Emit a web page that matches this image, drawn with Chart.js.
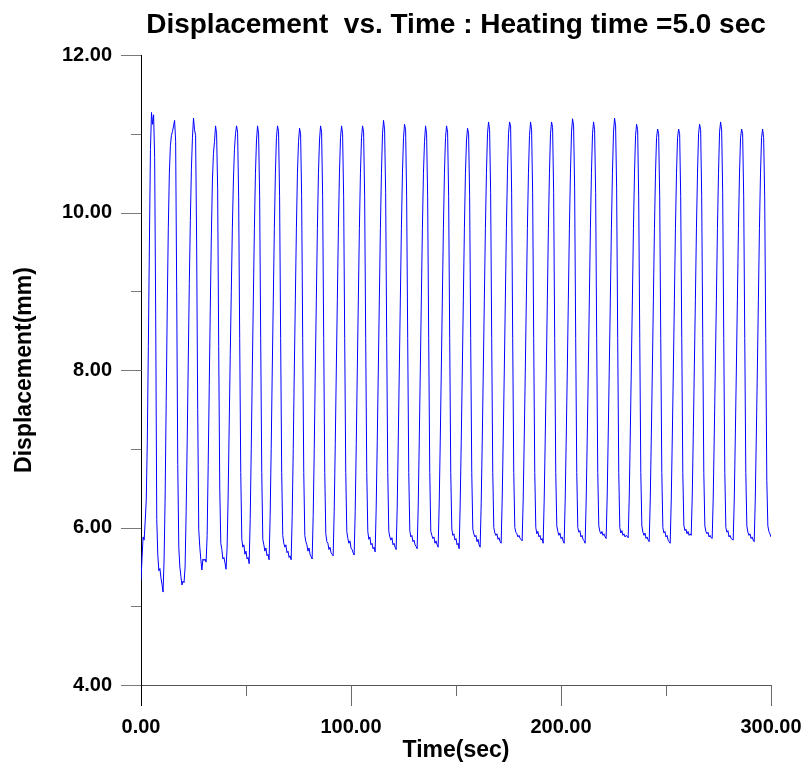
<!DOCTYPE html>
<html>
<head>
<meta charset="utf-8">
<title>Displacement vs. Time</title>
<script src="https://cdn.jsdelivr.net/npm/chart.js@4/dist/chart.umd.min.js"></script>
<style>
  html, body { margin: 0; padding: 0; background: #ffffff; }
  #wrap { width: 804px; height: 767px; }
</style>
</head>
<body>
<div id="wrap"><canvas id="chart" width="804" height="767"></canvas></div>
<script>
// ---- data ----
const chartTitle = 'Displacement  vs. Time : Heating time =5.0 sec';
const xAxisTitle = 'Time(sec)';
const yAxisTitle = 'Displacement(mm)';
const timeTickLabels = [0, 100, 200, 300];      // labelled x ticks
const dispTickLabels = [4, 6, 8, 10, 12];       // labelled y ticks
const sampleIntervalSec = 0.5;                  // one displacement sample every 0.5 s, starting at t = 0

const displacement = [
  // t = 0 .. 4.5
  5.33, 5.62, 5.88, 5.84, 6.08, 6.35, 7.1, 8.3, 9.6, 10.8,
  // cycle 0 (peak ~5 s)
  11.27, 11.12, 11.24, 10.7, 8.7, 6.1, 5.65, 5.45, 5.48, 5.36, 5.28, 5.18, 5.6, 6.4, 7.6, 8.8, 9.8, 10.5, 10.85, 10.98, 11.03,
  // cycle 1
  11.1, 11.17, 10.9, 9.0, 6.8, 5.75, 5.5, 5.38, 5.27, 5.32, 5.3, 5.5, 6.2, 7.1, 8.1, 9.1, 9.9, 10.55, 10.95,
  // cycle 2
  11.2, 11.05, 10.98, 9.6, 7.5, 5.97, 5.75, 5.59, 5.46, 5.6, 5.58, 5.6, 5.56, 5.9, 6.8, 7.8, 8.8, 9.7, 10.4, 10.75, 10.9,
  // cycle 3
  11.1, 11.0, 10.3, 8.3, 6.5, 5.8, 5.72, 5.6, 5.62, 5.55, 5.47, 5.75, 6.4, 7.3, 8.2, 9.0, 9.8, 10.4, 10.8, 11.0,
  // cycle 4
  11.1, 11.02, 10.2, 8.4, 6.7, 5.85, 5.75, 5.78, 5.66, 5.7, 5.6, 5.62, 5.54, 6.1, 7.0, 8.0, 8.9, 9.8, 10.5, 10.92,
  // cycle 5
  11.1, 11.0, 10.2, 8.4, 6.7, 5.85, 5.78, 5.7, 5.74, 5.64, 5.66, 5.59, 6.15, 7.0, 8.0, 8.9, 9.8, 10.5, 10.95,
  // cycle 6
  11.1, 11.03, 10.2, 8.4, 6.7, 5.9, 5.8, 5.75, 5.78, 5.68, 5.7, 5.62, 5.64, 5.59, 6.15, 7.0, 8.0, 8.9, 9.8, 10.5, 10.9,
  // cycle 7
  11.07, 11.0, 10.2, 8.4, 6.7, 5.9, 5.82, 5.78, 5.7, 5.74, 5.66, 5.63, 5.6, 6.15, 7.0, 8.0, 8.9, 9.8, 10.5, 10.92,
  // cycle 8
  11.1, 11.02, 10.2, 8.4, 6.7, 5.92, 5.82, 5.8, 5.72, 5.75, 5.68, 5.66, 5.64, 6.2, 7.05, 8.0, 8.9, 9.8, 10.5, 10.95,
  // cycle 9
  11.1, 11.0, 10.2, 8.4, 6.7, 5.95, 5.86, 5.8, 5.83, 5.74, 5.72, 5.68, 5.65, 6.2, 7.05, 8.0, 8.9, 9.8, 10.5, 10.95,
  // cycle 10
  11.1, 11.02, 10.2, 8.4, 6.7, 5.95, 5.85, 5.88, 5.78, 5.8, 5.73, 5.75, 5.69, 6.25, 7.1, 8.0, 8.9, 9.8, 10.5, 11.0,
  // cycle 11
  11.17, 11.05, 10.25, 8.4, 6.7, 5.95, 5.88, 5.84, 5.87, 5.78, 5.8, 5.75, 5.72, 6.25, 7.1, 8.0, 8.9, 9.8, 10.5, 10.95,
  // cycle 12
  11.12, 11.05, 10.2, 8.4, 6.7, 5.96, 5.88, 5.9, 5.82, 5.84, 5.78, 5.76, 5.73, 6.25, 7.1, 8.0, 8.9, 9.8, 10.5, 10.9,
  // cycle 13
  11.1, 11.0, 10.2, 8.4, 6.7, 5.95, 5.9, 5.86, 5.88, 5.8, 5.83, 5.78, 5.75, 6.3, 7.1, 8.0, 8.9, 9.8, 10.5, 10.95,
  // cycle 14
  11.1, 11.02, 10.2, 8.4, 6.7, 5.98, 5.9, 5.92, 5.84, 5.86, 5.78, 5.8, 5.73, 6.3, 7.1, 8.0, 8.9, 9.8, 10.5, 10.92,
  // cycle 15
  11.07, 11.0, 10.2, 8.4, 6.7, 5.98, 5.92, 5.88, 5.9, 5.82, 5.85, 5.78, 5.75, 6.3, 7.1, 8.0, 8.9, 9.8, 10.5, 11.0,
  // cycle 16
  11.15, 11.05, 10.25, 8.4, 6.7, 6.0, 5.93, 5.9, 5.92, 5.85, 5.87, 5.82, 5.8, 6.35, 7.15, 8.0, 8.9, 9.8, 10.5, 11.0,
  // cycle 17
  11.15, 11.1, 10.25, 8.4, 6.7, 6.0, 5.94, 5.92, 5.88, 5.9, 5.86, 5.85, 5.83, 6.35, 7.15, 8.0, 8.9, 9.8, 10.5, 10.98,
  // cycle 18
  11.15, 11.05, 10.25, 8.4, 6.7, 6.0, 5.92, 5.95, 5.88, 5.9, 5.84, 5.86, 5.8, 6.35, 7.15, 8.0, 8.9, 9.8, 10.5, 11.0,
  // cycle 19
  11.15, 11.08, 10.25, 8.4, 6.7, 6.02, 5.95, 5.9, 5.93, 5.86, 5.88, 5.83, 5.8, 6.35, 7.15, 8.0, 8.9, 9.8, 10.5, 11.02,
  // cycle 20
  11.19, 11.1, 10.3, 8.4, 6.7, 6.0, 5.94, 5.96, 5.88, 5.9, 5.85, 5.83, 5.8, 6.35, 7.15, 8.0, 8.9, 9.8, 10.5, 11.0,
  // cycle 21
  11.15, 11.05, 10.25, 8.4, 6.7, 6.02, 5.95, 5.92, 5.95, 5.9, 5.92, 5.88, 5.86, 6.4, 7.2, 8.05, 8.9, 9.8, 10.5, 11.02,
  // cycle 22
  11.2, 11.1, 10.3, 8.4, 6.7, 6.0, 5.93, 5.96, 5.9, 5.92, 5.88, 5.9, 5.89, 5.87, 6.4, 7.2, 8.05, 8.9, 9.8, 10.5, 10.98,
  // cycle 23
  11.12, 11.05, 10.2, 8.4, 6.7, 6.02, 5.94, 5.9, 5.93, 5.86, 5.88, 5.84, 5.82, 6.35, 7.15, 8.0, 8.9, 9.8, 10.5, 10.95,
  // cycle 24
  11.06, 11.0, 10.2, 8.4, 6.7, 6.0, 5.93, 5.95, 5.88, 5.9, 5.84, 5.82, 5.8, 6.35, 7.15, 8.0, 8.9, 9.8, 10.5, 10.95,
  // cycle 25
  11.06, 11.0, 10.2, 8.4, 6.7, 6.03, 5.96, 5.98, 5.92, 5.95, 5.9, 5.92, 5.9, 6.4, 7.2, 8.05, 8.9, 9.8, 10.5, 11.0,
  // cycle 26
  11.12, 11.05, 10.2, 8.4, 6.7, 6.02, 5.95, 5.92, 5.94, 5.88, 5.9, 5.87, 5.86, 6.4, 7.2, 8.05, 8.9, 9.8, 10.5, 11.02,
  // cycle 27
  11.15, 11.05, 10.25, 8.4, 6.7, 6.0, 5.94, 5.96, 5.88, 5.9, 5.86, 5.85, 5.84, 6.35, 7.15, 8.0, 8.9, 9.8, 10.5, 10.95,
  // cycle 28
  11.06, 11.0, 10.2, 8.4, 6.7, 6.02, 5.94, 5.9, 5.92, 5.86, 5.88, 5.84, 5.82, 6.35, 7.15, 8.0, 8.9, 9.8, 10.5, 10.95,
  // cycle 29 (to t = 300)
  11.06, 10.95, 10.2, 8.4, 6.6, 6.02, 5.95, 5.92, 5.88
];

// ---- build the point table for the library ----
const points = displacement.map((v, i) => ({ x: i * sampleIntervalSec, y: v }));

const FONT = "'Liberation Sans', Arial, Helvetica, sans-serif";

const tickMarks = {
  id: 'tickMarks',
  afterDraw(chart) {
    const ctx = chart.ctx;
    const xs = chart.scales.x, ys = chart.scales.y;
    ctx.save();
    ctx.lineWidth = 1;
    ctx.strokeStyle = '#7a7a7a';
    ys.ticks.forEach(t => {
      const py = Math.round(ys.getPixelForValue(t.value)) + 0.5;
      const len = dispTickLabels.includes(t.value) ? 20 : 10;
      ctx.beginPath();
      ctx.moveTo(ys.right - len, py);
      ctx.lineTo(ys.right, py);
      ctx.stroke();
    });
    xs.ticks.forEach(t => {
      const px = Math.round(xs.getPixelForValue(t.value)) + 0.5;
      const major = timeTickLabels.includes(t.value);
      const len = major ? 21 : 11;
      ctx.strokeStyle = (t.value === 0) ? '#000' : '#6a6a6a';
      ctx.beginPath();
      ctx.moveTo(px, xs.top);
      ctx.lineTo(px, xs.top + len);
      ctx.stroke();
    });
    ctx.restore();
  }
};

new Chart(document.getElementById('chart'), {
  type: 'line',
  data: {
    datasets: [{
      data: points,
      borderColor: '#0000ff',
      borderWidth: 1,
      pointRadius: 0,
      tension: 0,
      fill: false
    }]
  },
  options: {
    responsive: false,
    devicePixelRatio: 1,
    animation: false,
    events: [],
    layout: { padding: { left: 0, right: 33, top: 0, bottom: 0 } },
    plugins: {
      legend: { display: false },
      tooltip: { enabled: false },
      title: {
        display: true,
        text: chartTitle,
        fullSize: false,
        color: '#000',
        font: { family: FONT, size: 28, weight: 'bold' },
        padding: { top: 8.2, bottom: 13.2 }
      }
    },
    scales: {
      x: {
        type: 'linear',
        min: 0,
        max: 300,
        afterFit(scale) { scale.height = 82; scale.paddingLeft = 0; scale.paddingRight = 0; },
        ticks: {
          stepSize: 50,
          autoSkip: false,
          maxRotation: 0,
          padding: 10,
          color: '#000',
          font: { family: FONT, size: 20, weight: 'bold' },
          callback: v => timeTickLabels.includes(v) ? v.toFixed(2) : ''
        },
        grid: { display: true, drawOnChartArea: false, drawTicks: true, tickLength: 20, tickColor: 'rgba(0,0,0,0)' },
        border: { display: true, color: '#555', width: 1 },
        title: {
          display: true,
          text: xAxisTitle,
          color: '#000',
          font: { family: FONT, size: 23, weight: 'bold' },
          padding: { top: 0, bottom: 3 }
        }
      },
      y: {
        type: 'linear',
        min: 4,
        max: 12,
        afterFit(scale) { scale.width = 141; },
        ticks: {
          stepSize: 1,
          autoSkip: false,
          padding: 9,
          color: '#000',
          font: { family: FONT, size: 20, weight: 'bold' },
          callback: v => dispTickLabels.includes(v) ? v.toFixed(2) : ''
        },
        grid: { display: true, drawOnChartArea: false, drawTicks: true, tickLength: 20, tickColor: 'rgba(0,0,0,0)' },
        border: { display: true, color: '#000', width: 1 },
        title: {
          display: true,
          text: yAxisTitle,
          color: '#000',
          font: { family: FONT, size: 23, weight: 'bold' },
          padding: { top: 11, bottom: 0 }
        }
      }
    }
  },
  plugins: [tickMarks]
});
</script>
</body>
</html>
